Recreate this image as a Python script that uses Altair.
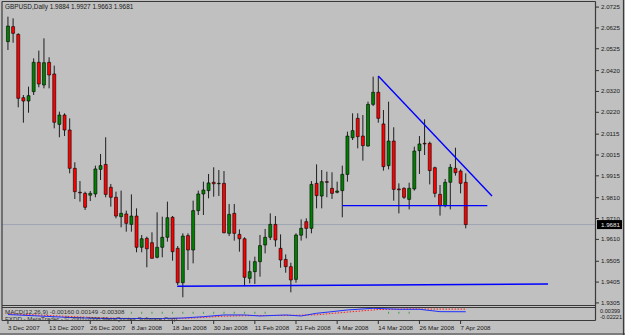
import altair as alt
import pandas as pd

W, H = 625, 335
FONT = "Liberation Sans"
TXT = "#1a1a1a"

# ---- daily OHLC (GBPUSD, 3 Dec 2007 .. 8 Apr 2008) ----
opens = [2.0559, 2.0631, 2.0594, 2.0290, 2.0274, 2.0319, 2.0460, 2.0351, 2.0460, 2.0404,
         2.0162, 2.0207, 2.0135, 1.9951, 1.9836, 1.9831, 1.9822, 1.9828, 1.9946, 1.9970,
         1.9860, 1.9812, 1.9719, 1.9732, 1.9682, 1.9722, 1.9572, 1.9615, 1.9594, 1.9524,
         1.9572, 1.9620, 1.9716, 1.9567, 1.9402, 1.9628, 1.9559, 1.9748, 1.9828, 1.9844,
         1.9884, 1.9877, 1.9879, 1.9639, 1.9735, 1.9634, 1.9613, 1.9423, 1.9455, 1.9503,
         1.9583, 1.9620, 1.9682, 1.9567, 1.9514, 1.9479, 1.9418, 1.9630, 1.9695, 1.9663,
         1.9879, 1.9818, 1.9887, 1.9855, 1.9836, 1.9844, 1.9922, 2.0098, 2.0191, 2.0106,
         2.0058, 2.0258, 2.0316, 2.0164, 1.9964, 2.0082, 1.9852, 1.9855, 1.9802, 1.9852,
         2.0036, 2.0071, 2.0071, 1.9954, 1.9826, 1.9772, 1.9884, 1.9951, 1.9938, 1.9884]
highs = [2.0679, 2.0671, 2.0599, 2.0303, 2.0343, 2.0479, 2.0516, 2.0575, 2.0484, 2.0444,
         2.0223, 2.0215, 2.0191, 1.9980, 1.9890, 1.9839, 1.9842, 1.9964, 2.0020, 2.0100,
         1.9876, 1.9839, 1.9844, 1.9748, 1.9826, 1.9759, 1.9631, 1.9623, 1.9644, 1.9740,
         1.9719, 1.9791, 1.9722, 1.9578, 1.9639, 1.9639, 1.9796, 1.9844, 1.9887, 1.9924,
         1.9956, 1.9943, 1.9938, 1.9780, 1.9780, 1.9658, 1.9620, 1.9508, 1.9527, 1.9631,
         1.9660, 1.9735, 1.9722, 1.9634, 1.9538, 1.9498, 1.9639, 1.9706, 1.9711, 1.9890,
         1.9970, 1.9943, 1.9935, 1.9932, 1.9887, 1.9964, 2.0127, 2.0215, 2.0215, 2.0207,
         2.0271, 2.0391, 2.0394, 2.0231, 2.0271, 2.0148, 1.9879, 1.9860, 1.9882, 2.0055,
         2.0106, 2.0186, 2.0079, 1.9959, 1.9871, 1.9900, 1.9972, 2.0050, 1.9946, 1.9927]
lows = [2.0519, 2.0554, 2.0244, 2.0170, 2.0218, 2.0303, 2.0340, 2.0335, 2.0335, 2.0143,
        2.0100, 2.0106, 1.9927, 1.9804, 1.9791, 1.9751, 1.9794, 1.9812, 1.9895, 1.9812,
        1.9767, 1.9711, 1.9668, 1.9647, 1.9647, 1.9548, 1.9548, 1.9476, 1.9519, 1.9519,
        1.9524, 1.9599, 1.9508, 1.9391, 1.9332, 1.9463, 1.9495, 1.9727, 1.9727, 1.9807,
        1.9815, 1.9818, 1.9639, 1.9626, 1.9604, 1.9551, 1.9386, 1.9399, 1.9396, 1.9431,
        1.9543, 1.9607, 1.9575, 1.9474, 1.9450, 1.9356, 1.9402, 1.9604, 1.9615, 1.9639,
        1.9759, 1.9759, 1.9812, 1.9804, 1.9831, 1.9716, 1.9887, 2.0087, 2.0047, 1.9988,
        2.0055, 2.0250, 2.0170, 1.9940, 1.9946, 1.9796, 1.9735, 1.9804, 1.9754, 1.9844,
        1.9924, 2.0015, 1.9874, 1.9812, 1.9724, 1.9764, 1.9754, 1.9916, 1.9831, 1.9663]
closes = [2.0634, 2.0599, 2.0287, 2.0274, 2.0300, 2.0460, 2.0356, 2.0458, 2.0399, 2.0172,
          2.0207, 2.0135, 1.9951, 1.9839, 1.9833, 1.9764, 1.9831, 1.9948, 1.9964, 1.9826,
          1.9812, 1.9722, 1.9735, 1.9687, 1.9722, 1.9572, 1.9613, 1.9565, 1.9519, 1.9572,
          1.9620, 1.9714, 1.9551, 1.9402, 1.9626, 1.9559, 1.9748, 1.9828, 1.9847, 1.9881,
          1.9877, 1.9879, 1.9642, 1.9730, 1.9639, 1.9613, 1.9428, 1.9455, 1.9503, 1.9580,
          1.9620, 1.9682, 1.9607, 1.9511, 1.9479, 1.9415, 1.9631, 1.9663, 1.9663, 1.9874,
          1.9820, 1.9887, 1.9884, 1.9831, 1.9842, 1.9922, 2.0106, 2.0132, 2.0103, 2.0060,
          2.0258, 2.0316, 2.0191, 1.9959, 2.0082, 1.9850, 1.9848, 1.9812, 1.9855, 2.0034,
          2.0068, 2.0068, 1.9940, 1.9831, 1.9772, 1.9884, 1.9956, 1.9930, 1.9879, 1.9681]

# ---- axes ----
date_bars = [0, 8, 16, 24, 32, 40, 48, 56, 64, 72, 80, 88]
date_labels = ["3 Dec 2007", "13 Dec 2007", "26 Dec 2007", "8 Jan 2008", "18 Jan 2008",
               "30 Jan 2008", "11 Feb 2008", "21 Feb 2008", "4 Mar 2008", "14 Mar 2008",
               "26 Mar 2008", "7 Apr 2008"]
price_ticks = [2.0725, 2.0625, 2.0525, 2.0420, 2.0320, 2.0220, 2.0115, 2.0015,
               1.9915, 1.9810, 1.9710, 1.9610, 1.9505, 1.9405, 1.9305]
price_tick_labels = ["2.0725", "2.0625", "2.0525", "2.0420", "2.0320", "2.0220", "2.0115",
                     "2.0015", "1.9915", "1.9810", "1.9710", "1.9610", "1.9505", "1.9405",
                     "1.9305"]

# ---- drawn trend lines (bar index, price) ----
down_line_bars = [72, 94.1]
down_line_prices = [2.0394, 1.9818]
mid_line_bars = [65, 93.2]
mid_line_prices = [1.9772, 1.9772]
low_line_bars = [32.9, 105.0]
low_line_prices = [1.9385, 1.9396]

# ---- MACD sub-window (approximate readings) ----
macd_bars = [0, 6, 12, 18, 24, 30, 34, 38, 42, 46, 49, 54, 57, 60, 63, 66, 71, 76, 80, 84, 89]
macd_main = [-0.0049, -0.0066, -0.0084, -0.0096, -0.0096, -0.0096, -0.0090, -0.0074, -0.0054,
             -0.0054, -0.0066, -0.0054, -0.0066, -0.0034, -0.0015, 0.0005, 0.0025, 0.0013,
             0.0013, -0.0015, -0.0016]
sig_bars = [0, 6, 12, 18, 24, 30, 36, 42, 48, 54, 60, 66, 72, 78, 84, 89]
macd_signal = [-0.0040, -0.0055, -0.0072, -0.0088, -0.0096, -0.0098, -0.0090, -0.0068, -0.0060,
               -0.0060, -0.0052, -0.0020, 0.0010, 0.0018, 0.0015, 0.0015]
hist_bars = [24, 26, 28, 30, 32, 34, 36, 38, 40, 42, 44, 46, 48, 50, 74, 76, 78]
hist_vals = [-0.0028] * len(hist_bars)
macd_axis_vals = [0.00399, -0.0035]
macd_axis_labels = ["0.00399", "-0.02221"]

n = len(opens)
df = pd.DataFrame({"bar": list(range(n)), "open": opens, "high": highs,
                   "low": lows, "close": closes})
df["dir"] = ["up" if c >= o else "down" for o, c in zip(opens, closes)]

xs = alt.Scale(domain=[-0.574, 118.99], nice=False, zero=False)
ys = alt.Scale(domain=[1.9151, 2.0759], nice=False, zero=False)
ms = alt.Scale(domain=[-0.02904, 0.36626], nice=False, zero=False)

X = lambda f: alt.X(f, type="quantitative", scale=xs, axis=None)
YP = lambda f: alt.Y(f, type="quantitative", scale=ys, axis=None)
YM = lambda f: alt.Y(f, type="quantitative", scale=ms, axis=None)

base = alt.Chart(df)

# frame / panel borders
frame = pd.DataFrame({"x1": [2, 2, 2, 595.5, 2, 2, 0, 623.5],
                      "x2": [595.5, 595.5, 2, 595.5, 595.5, 595.5, 625, 623.5],
                      "y1": [1.5, 305.5, 1.5, 1.5, 307.5, 320.5, 334, 0],
                      "y2": [1.5, 305.5, 320.5, 320.5, 307.5, 320.5, 334, 335]})
frame_layers = []
for _, r in frame.iterrows():
    frame_layers.append(
        alt.Chart(pd.DataFrame({"k": [0]})).mark_rule(color="#3a3a3a", strokeWidth=1.2).encode(
            x=alt.value(r.x1), x2=alt.value(r.x2), y=alt.value(r.y1), y2=alt.value(r.y2)))

last_df = pd.DataFrame({"p": [closes[-1]], "lbl": [f"{closes[-1]:.4f}"]})
price_line = alt.Chart(last_df).mark_rule(color="#9ea4b4", strokeWidth=1).encode(
    x=alt.value(2), x2=alt.value(595), y=YP("p"))

wicks = base.mark_rule(color="#1e1e1e", strokeWidth=1).encode(
    x=X("bar"), y=YP("low"), y2=alt.Y2("high"))
bodies = base.mark_bar(size=3, stroke="#000000", strokeWidth=0.6).encode(
    x=X("bar"), y=YP("open"), y2=alt.Y2("close"),
    color=alt.Color("dir:N", scale=alt.Scale(domain=["up", "down"], range=["#008000", "#ff0000"]),
                    legend=None))

def tline(bs, ps):
    d = pd.DataFrame({"bar": bs, "p": ps})
    return alt.Chart(d).mark_line(color="#0000ff", strokeWidth=1.4).encode(x=X("bar"), y=YP("p"))

lines = [tline(down_line_bars, down_line_prices), tline(mid_line_bars, mid_line_prices),
         tline(low_line_bars, low_line_prices)]

ticks_df = pd.DataFrame({"p": price_ticks, "lbl": price_tick_labels})
p_ticks = alt.Chart(ticks_df).mark_rule(color="#303030").encode(
    x=alt.value(595.5), x2=alt.value(599), y=YP("p"))
p_labels = alt.Chart(ticks_df).mark_text(align="left", baseline="middle", font=FONT,
                                         fontSize=6.2, color=TXT).encode(
    x=alt.value(601), y=YP("p"), text="lbl:N")

last_box = alt.Chart(last_df).mark_rect(color="#000000", yOffset=-4.5, y2Offset=4.5).encode(
    x=alt.value(597), x2=alt.value(622), y=YP("p"), y2=alt.Y2("p"))
last_txt = alt.Chart(last_df).mark_text(align="left", baseline="middle", font=FONT,
                                        fontSize=6.2, color="#e8e8e8").encode(
    x=alt.value(601), y=YP("p"), text="lbl:N")

dates_df = pd.DataFrame({"bar": date_bars, "lbl": date_labels})
d_ticks = alt.Chart(dates_df).mark_rule(color="#303030").encode(
    x=X("bar"), y=alt.value(320.5), y2=alt.value(324))
d_labels = alt.Chart(dates_df).mark_text(align="left", baseline="middle", font=FONT,
                                         fontSize=6.2, color=TXT, dx=0).encode(
    x=X("bar"), y=alt.value(327.5), text="lbl:N")

title_df = pd.DataFrame({"t": ["GBPUSD,Daily  %.4f %.4f %.4f %.4f" % (opens[-1], highs[-1], lows[-1], closes[-1])]})
title = alt.Chart(title_df).mark_text(align="left", baseline="middle", font=FONT,
                                      fontSize=6.4, color=TXT).encode(
    x=alt.value(5), y=alt.value(7), text="t:N")

macd_df = pd.DataFrame({"bar": macd_bars, "v": macd_main})
sig_df = pd.DataFrame({"bar": sig_bars, "v": macd_signal})
hist_df = pd.DataFrame({"bar": hist_bars, "v": hist_vals})
m_main = alt.Chart(macd_df).mark_line(color="#2030ff", strokeWidth=1).encode(x=X("bar"), y=YM("v"))
m_sig = alt.Chart(sig_df).mark_line(color="#ff2020", strokeWidth=1, strokeDash=[1.5, 1.5]).encode(
    x=X("bar"), y=YM("v"))
m_hist = alt.Chart(hist_df).mark_tick(color="#109010", orient="vertical", size=2, thickness=1).encode(
    x=X("bar"), y=YM("v"))

sub_txt = pd.DataFrame({"t": ["MACD(12,26,9) -0.00160 0.00149 -0.00308",
                              "FXDD - MetaTrader - \u00a9 2001-2008 MetaQuotes Software Corp."],
                        "y": [312, 318.5]})
sub_layers = [
    alt.Chart(sub_txt.iloc[[i]]).mark_text(align="left", baseline="middle", font=FONT,
                                           fontSize=6.2, color="#303030").encode(
        x=alt.value(5), y=alt.value(float(sub_txt.y.iloc[i])), text="t:N")
    for i in range(len(sub_txt))]
m_axis_df = pd.DataFrame({"v": macd_axis_vals, "lbl": macd_axis_labels})
m_labels = alt.Chart(m_axis_df).mark_text(align="left", baseline="top", font=FONT,
                                          fontSize=5.6, color=TXT, dy=1.5).encode(
    x=alt.value(600), y=YM("v"), text="lbl:N")

chart = alt.layer(
    price_line, wicks, bodies, *lines, m_hist, m_sig, m_main, *sub_layers,
    *frame_layers, p_ticks, p_labels, last_box, last_txt, d_ticks, d_labels, title, m_labels
).resolve_scale(y="independent").properties(
    width=W, height=H, padding=0, autosize=alt.AutoSizeParams(type="none"),
    background="#c0c0c0"
).configure_view(stroke=None)

chart.save("out.html", embed_options={"renderer": "svg", "actions": False})
